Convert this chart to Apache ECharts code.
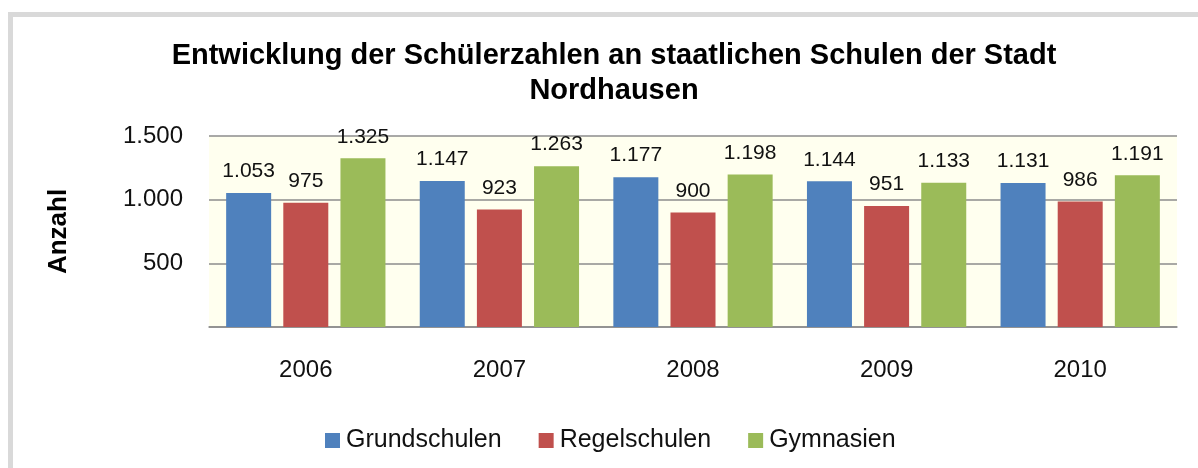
<!DOCTYPE html>
<html>
<head>
<meta charset="utf-8">
<script src="https://cdn.jsdelivr.net/npm/echarts@6/dist/echarts.min.js"></script>
<style>
html,body{margin:0;padding:0;background:#fff;}
#c{width:1198px;height:468px;}
</style>
</head>
<body>
<div id="c"></div>
<script>
const categories = ['2006', '2007', '2008', '2009', '2010'];
const grundschulen = [1053, 1147, 1177, 1144, 1131];
const regelschulen = [975, 923, 900, 951, 986];
const gymnasien = [1325, 1263, 1198, 1133, 1191];
const seriesNames = ['Grundschulen', 'Regelschulen', 'Gymnasien'];
const colors = ['#4F81BD', '#C0504D', '#9BBB59'];

function fmt(v) {
  const s = String(Math.round(v));
  return s.replace(/\B(?=(\d{3})+(?!\d))/g, '.');
}

const font = '"Liberation Sans", Arial, Helvetica, sans-serif';
const chart = echarts.init(document.getElementById('c'), null, {renderer: 'canvas'});

const dataArr = [grundschulen, regelschulen, gymnasien];
const series = dataArr.map((d, i) => ({
  name: seriesNames[i],
  type: 'bar',
  data: d,
  barWidth: 45,
  barGap: '27%',
  itemStyle: {color: colors[i]},
  label: {
    show: true,
    position: 'top',
    distance: 11,
    fontFamily: font,
    fontSize: 21,
    color: '#111',
    formatter: p => fmt(p.value)
  },
  z: 3
}));

chart.setOption({
  animation: false,
  backgroundColor: '#fff',
  graphic: [{
    type: 'rect',
    shape: {x: 10.5, y: 14.5, width: 1400, height: 800},
    style: {fill: 'none', stroke: '#D9D9D9', lineWidth: 5},
    z: -1
  }],
  title: {
    text: 'Entwicklung der Schülerzahlen an staatlichen Schulen der Stadt\nNordhausen',
    left: 609,
    top: 33,
    textAlign: 'center',
    textStyle: {
      fontFamily: font,
      fontSize: 29,
      fontWeight: 'bold',
      color: '#000',
      lineHeight: 35
    }
  },
  legend: {
    data: seriesNames,
    left: 320,
    top: 423,
    icon: 'rect',
    itemWidth: 15,
    itemHeight: 15,
    itemGap: 37,
    textStyle: {fontFamily: font, fontSize: 25, color: '#111', padding: [0, 0, 0, 1]}
  },
  grid: {
    left: 209,
    right: 21,
    top: 136,
    bottom: 141,
    show: true,
    backgroundColor: '#FFFFEF',
    borderWidth: 0
  },
  xAxis: {
    type: 'category',
    data: categories,
    axisTick: {show: false},
    axisLine: {show: true, lineStyle: {color: '#8C8C8C', width: 1.5}},
    axisLabel: {fontFamily: font, fontSize: 24, color: '#111', margin: 31}
  },
  yAxis: {
    type: 'value',
    min: 0,
    max: 1500,
    interval: 500,
    name: 'Anzahl',
    nameLocation: 'middle',
    nameRotate: 90,
    nameGap: 137,
    nameTextStyle: {fontFamily: font, fontSize: 26, fontWeight: 'bold', color: '#000'},
    axisLine: {show: false},
    axisTick: {show: false},
    splitLine: {lineStyle: {color: '#8C8C8C', width: 1.5}},
    axisLabel: {
      fontFamily: font, fontSize: 24, color: '#111', margin: 26,
      formatter: v => (v === 0 ? '' : fmt(v))
    }
  },
  series: series
});
</script>
</body>
</html>
